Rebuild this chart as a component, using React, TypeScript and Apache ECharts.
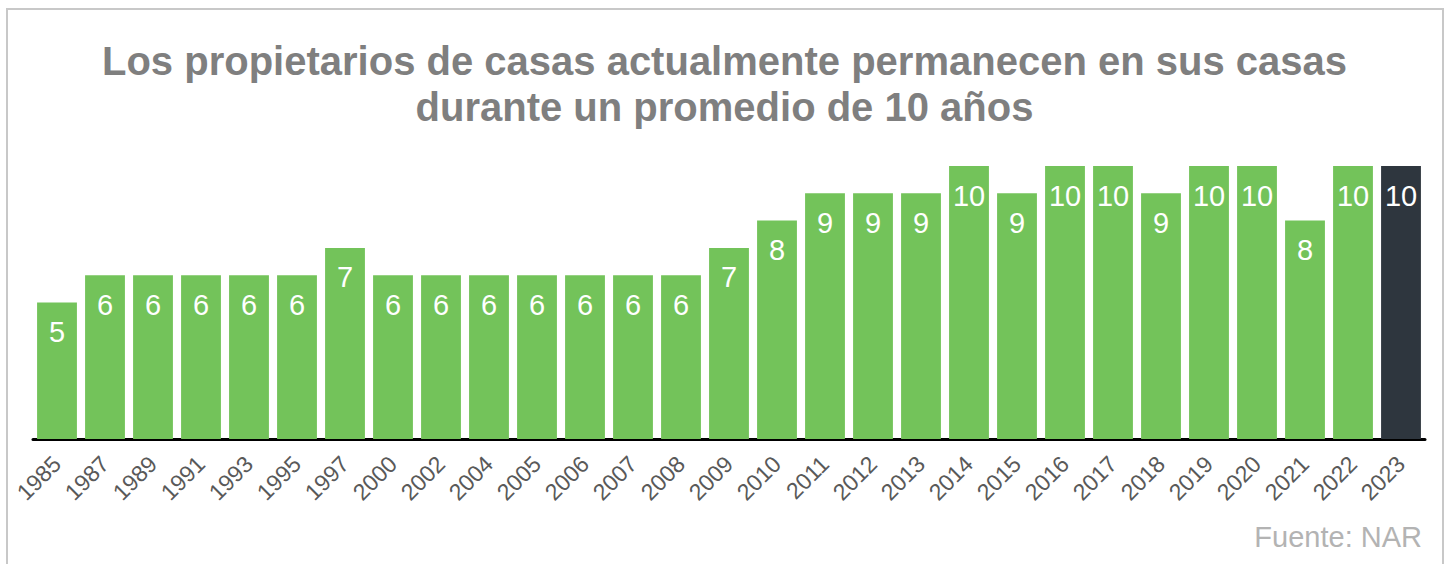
import React, { useEffect, useRef } from "react";
import * as echarts from "echarts";

const years = ["1985","1987","1989","1991","1993","1995","1997","2000","2002","2004","2005","2006","2007","2008","2009","2010","2011","2012","2013","2014","2015","2016","2017","2018","2019","2020","2021","2022","2023"];
const tenure = [5,6,6,6,6,6,7,6,6,6,6,6,6,6,7,8,9,9,9,10,9,10,10,9,10,10,8,10,10];
const titleText = "Los propietarios de casas actualmente permanecen en sus casas\ndurante un promedio de 10 años";
const sourceText = "Fuente: NAR";

const GREEN = "#73c35a";
const DARK = "#2e363e";

export default function App() {
  const ref = useRef<HTMLDivElement>(null);
  useEffect(() => {
    const chart = echarts.init(ref.current!, null, { renderer: "svg" });
    chart.setOption({
      animation: false,
      backgroundColor: "#ffffff",
      textStyle: { fontFamily: "Liberation Sans, Arial, sans-serif" },
      title: {
        text: titleText,
        left: "center",
        top: 33,
        textStyle: {
          fontSize: 40,
          fontWeight: "bold",
          color: "#7f7f7f",
          lineHeight: 46,
          fontFamily: "Liberation Sans, Arial, sans-serif",
        },
      },
      graphic: [
        {
          type: "rect",
          shape: { x: 7, y: 9, width: 1436, height: 620 },
          style: { fill: "none", stroke: "#c8c8c8", lineWidth: 2 },
          silent: true,
        },
        {
          type: "text",
          right: 27,
          top: 522,
          style: {
            text: sourceText,
            fill: "#b3b3b3",
            fontSize: 29,
            fontFamily: "Liberation Sans, Arial, sans-serif",
          },
        },
      ],
      grid: { left: 33, right: 24, top: 166, bottom: 125, containLabel: false },
      xAxis: {
        type: "category",
        data: years,
        axisLine: { show: true, lineStyle: { color: "#000000", width: 3 } },
        axisTick: { show: false },
        axisLabel: {
          rotate: 45,
          interval: 0,
          fontSize: 23,
          color: "#595959",
          margin: 21,
          fontFamily: "Liberation Sans, Arial, sans-serif",
        },
      },
      yAxis: {
        type: "value",
        min: 0,
        max: 10,
        show: false,
        splitLine: { show: false },
      },
      series: [
        {
          type: "bar",
          data: tenure.map((v, i) => ({
            value: v,
            itemStyle: { color: i === tenure.length - 1 ? DARK : GREEN },
          })),
          barCategoryGap: "17%",
          label: {
            show: true,
            position: "insideTop",
            distance: 15,
            color: "#ffffff",
            fontSize: 29,
            fontFamily: "Liberation Sans, Arial, sans-serif",
          },
        },
      ],
    });
    return () => chart.dispose();
  }, []);
  return (
    <div
      ref={ref}
      style={{ position: "fixed", left: 0, top: 0, width: 1449, height: 564 }}
    />
  );
}
